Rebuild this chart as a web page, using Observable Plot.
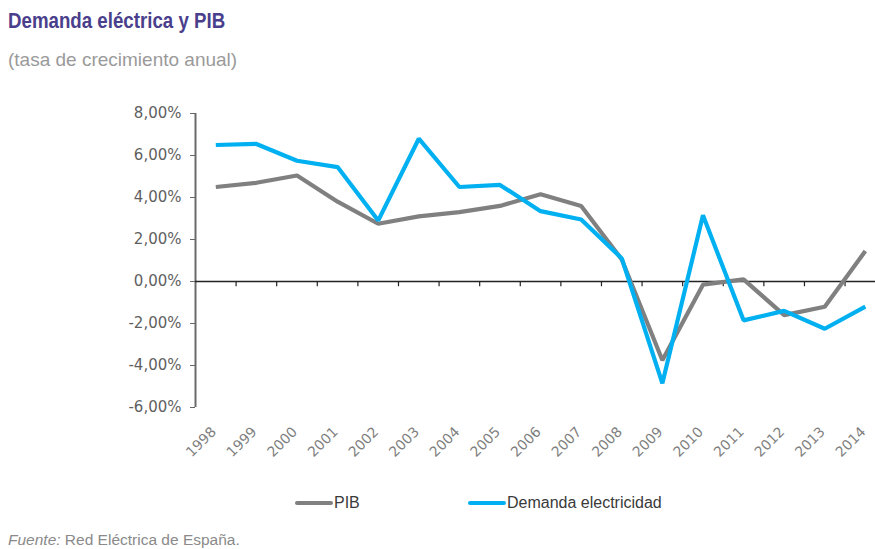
<!DOCTYPE html>
<html>
<head>
<meta charset="utf-8">
<script src="https://cdn.jsdelivr.net/npm/d3@7"></script>
<script src="https://cdn.jsdelivr.net/npm/@observablehq/plot@0.6"></script>
<style>
  html, body { margin: 0; padding: 0; background: #fff; width: 875px; height: 549px; overflow: hidden; }
  #title { height: 42px; line-height: 42px; padding-left: 8px; font-family: "Liberation Sans", sans-serif; font-weight: bold; font-size: 22px; color: #4a3f8c; }
  #title span { display: inline-block; transform: scaleX(0.85); transform-origin: left center; }
  #subtitle { height: 36px; line-height: 36px; padding-left: 8px; font-family: "Liberation Sans", sans-serif; font-size: 19px; color: #9a9a9a; }
  #chart svg { display: block; }
  #legend { height: 54px; position: relative; font-family: "Liberation Sans", sans-serif; font-size: 16px; color: #3a3a3a; }
  .li { position: absolute; top: 0; height: 54px; line-height: 54px; display: flex; align-items: center; }
  .sw { display: inline-block; width: 38px; height: 4px; border-radius: 2px; margin-right: 1px; }
  #footer { height: 20px; line-height: 20px; padding-left: 8px; font-family: "Liberation Sans", sans-serif; font-size: 15.5px; color: #8a8a8a; }
</style>
</head>
<body>
<div id="title"><span>Demanda eléctrica y PIB</span></div>
<div id="subtitle">(tasa de crecimiento anual)</div>
<div id="chart"></div>
<div id="legend"></div>
<div id="footer"><i>Fuente:</i> Red Eléctrica de España.</div>
<script>
const years = [1998, 1999, 2000, 2001, 2002, 2003, 2004, 2005, 2006, 2007, 2008, 2009, 2010, 2011, 2012, 2013, 2014];
const pib = [4.5, 4.7, 5.05, 3.8, 2.75, 3.1, 3.3, 3.6, 4.15, 3.6, 1.05, -3.75, -0.15, 0.1, -1.6, -1.2, 1.45];
const demanda = [6.5, 6.55, 5.75, 5.45, 2.9, 6.8, 4.5, 4.6, 3.35, 2.95, 1.1, -4.85, 3.15, -1.85, -1.4, -2.25, -1.2];
const seriesNames = ["PIB", "Demanda electricidad"];
const seriesColors = ["#808080", "#00b0f0"];
const yTicks = [-6, -4, -2, 0, 2, 4, 6, 8];

const rows = [];
years.forEach((y, i) => {
  rows.push({year: y, value: pib[i], serie: seriesNames[0]});
  rows.push({year: y, value: demanda[i], serie: seriesNames[1]});
});
const boundaries = years.map(y => y + 0.5).slice(0, -1);

const chart = Plot.plot({
  width: 875,
  height: 398,
  marginLeft: 195,
  marginRight: 0,
  marginTop: 35,
  marginBottom: 69,
  style: {fontFamily: "DejaVu Sans, sans-serif", background: "#fff"},
  x: {type: "linear", domain: [1997.5, 2014.25], axis: null},
  y: {domain: [-6, 8], axis: null},
  color: {domain: seriesNames, range: seriesColors},
  marks: [
    Plot.axisY({ticks: yTicks, label: null, tickSize: 5, tickPadding: 9, tickFormat: d => d.toFixed(2).replace(".", ",") + "%", stroke: "#666", color: "#5f5f5f", fontSize: 15, tickStrokeWidth: 1.5}),
    Plot.ruleX([1997.5], {y1: -6, y2: 8, stroke: "#6a6a6a", strokeWidth: 2}),
    Plot.ruleY([0], {stroke: "#222", strokeWidth: 1.5}),
    Plot.ruleX(boundaries, {x: d => d, y1: 0, y2: -0.25, stroke: "#222", strokeWidth: 1.2}),
    Plot.lineY(rows, {x: "year", y: "value", stroke: "serie", z: "serie", strokeWidth: 4.2, strokeLinejoin: "miter", strokeLinecap: "butt"}),
    Plot.text(years, {x: d => d, frameAnchor: "bottom", text: d => String(d), rotate: -45, textAnchor: "end", lineAnchor: "middle", dy: 22, dx: -2, fill: "#7f7f7f", fontSize: 14})
  ]
});
document.getElementById("chart").appendChild(chart);

const legend = document.getElementById("legend");
const legendX = [295, 468];
seriesNames.forEach((name, i) => {
  const item = document.createElement("div");
  item.className = "li";
  item.style.left = legendX[i] + "px";
  const sw = document.createElement("span");
  sw.className = "sw";
  sw.style.background = seriesColors[i];
  const t = document.createElement("span");
  t.textContent = name;
  item.appendChild(sw);
  item.appendChild(t);
  legend.appendChild(item);
});
</script>
</body>
</html>
